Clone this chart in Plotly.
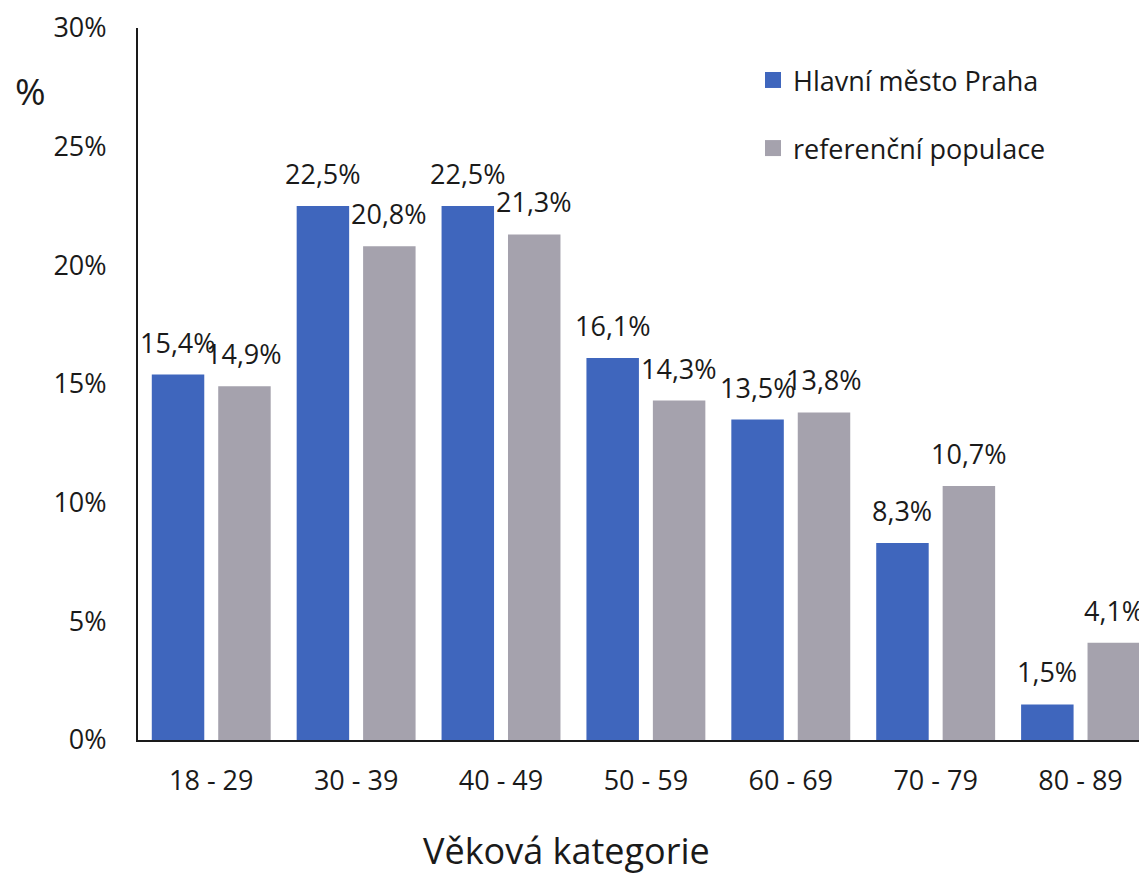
import plotly.graph_objects as go

categories = ["18 - 29", "30 - 39", "40 - 49", "50 - 59", "60 - 69", "70 - 79", "80 - 89"]
praha = [15.4, 22.5, 22.5, 16.1, 13.5, 8.3, 1.5]
reference = [14.9, 20.8, 21.3, 14.3, 13.8, 10.7, 4.1]
series_names = ["Hlavní město Praha", "referenční populace"]
colors = ["#3F66BD", "#A5A2AD"]
y_ticks = [0, 5, 10, 15, 20, 25, 30]
y_ticktext = [f"{v}%" for v in y_ticks]

FONT = "Open Sans"
TXT = "#1a1a1a"

# page body has an 8px margin; figure coordinates are screen coordinates - 8
W, H = 1145, 866
ML, MR, MT, MB = 130, 0, 18, 134
PW, PH = W - ML - MR, H - MT - MB
BARGAP, GROUPGAP = 0.083, 0.21


def px(fx):
    return (fx - ML) / PW


def py(fy):
    return 1 - (fy - MT) / PH


fig = go.Figure()
series = [praha, reference]
for name, vals, col in zip(series_names, series, colors):
    fig.add_trace(go.Bar(
        x=categories, y=vals, name=name,
        marker=dict(color=col, line=dict(width=0)),
        showlegend=False,
    ))
# legend-only entries with larger square symbols
for name, col, grp in zip(series_names, colors, ["a", "b"]):
    fig.add_trace(go.Scatter(
        x=[None], y=[None], mode="markers", name=name,
        marker=dict(symbol="square", size=16, color=col),
        showlegend=True, legendgroup=grp,
    ))

# value labels above bars (positioned through the category axis)
cat_px = PW / len(categories)
slot = cat_px * (1 - BARGAP) / 2
for si, vals in enumerate(series):
    xs = (si - 0.5) * slot
    for c, v in zip(categories, vals):
        fig.add_annotation(
            x=c, y=v, xref="x", yref="y",
            text=f"{v:.1f}%".replace(".", ","),
            showarrow=False, xanchor="center", yanchor="bottom",
            xshift=xs, yshift=12,
            font=dict(family=FONT, size=27, color=TXT),
        )

fig.update_layout(
    width=W, height=H,
    margin=dict(l=ML, r=MR, t=MT, b=MB, pad=0),
    paper_bgcolor="white", plot_bgcolor="white",
    barmode="group", bargap=BARGAP, bargroupgap=GROUPGAP,
    font=dict(family=FONT, color=TXT),
    showlegend=True,
    legend=dict(
        x=px(745), xanchor="left",
        y=py(46), yanchor="top",
        font=dict(family=FONT, size=27, color=TXT),
        tracegroupgap=30, bgcolor="rgba(0,0,0,0)",
        traceorder="grouped",
    ),
)

fig.update_yaxes(
    range=[0, 30], tickvals=y_ticks, ticktext=y_ticktext,
    showgrid=False, zeroline=False,
    showline=True, linecolor="#1a1a1a", linewidth=2,
    ticks="", ticklabelstandoff=24, ticklabeloverflow="allow",
    tickfont=dict(family=FONT, size=27, color=TXT),
)
fig.update_xaxes(
    showgrid=False, showline=True, linecolor="#1a1a1a", linewidth=2,
    ticks="", ticklabelstandoff=16,
    tickfont=dict(family=FONT, size=27, color=TXT),
)

fig.add_annotation(
    text="%", xref="paper", yref="paper",
    x=px(22), y=py(81),
    xanchor="center", yanchor="middle", showarrow=False,
    font=dict(family=FONT, size=37, color=TXT),
)
fig.add_annotation(
    text="Věková kategorie", xref="paper", yref="paper",
    x=px(558), y=py(843),
    xanchor="center", yanchor="middle", showarrow=False,
    font=dict(family=FONT, size=36, color=TXT),
)

fig.write_html("out.html")
